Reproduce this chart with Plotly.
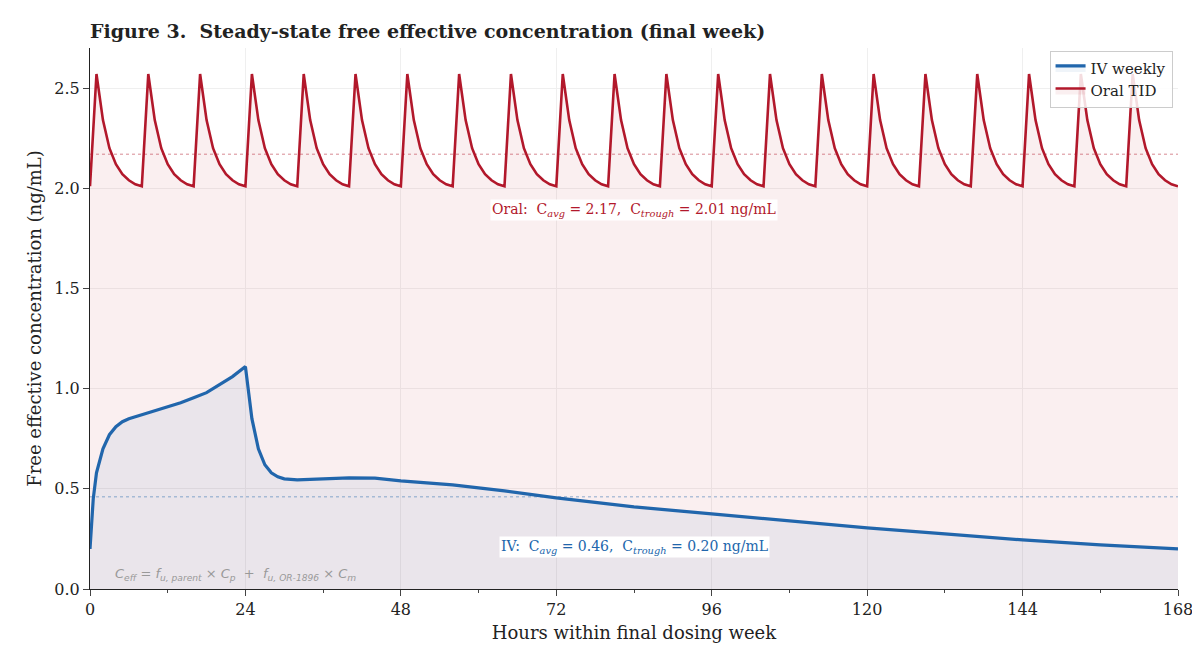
import plotly.graph_objects as go

# oral TID: one 8 h dosing interval, repeated for 21 doses
oral_cycle = [2.01, 2.57, 2.34, 2.20, 2.12, 2.07, 2.04, 2.02]
oral_t = list(range(0, 169))
oral_c = (oral_cycle * 21) + [2.01]

iv_t = [0, 0.5, 1, 2, 3, 4, 5, 6, 8, 10, 12, 14, 16, 18, 20, 22, 24, 25, 26, 27, 28, 29, 30,
        32, 36, 40, 44, 48, 56, 64, 72, 84, 96, 108, 120, 132, 144, 156, 168]
iv_c = [0.20, 0.45, 0.58, 0.70, 0.77, 0.81, 0.835, 0.85, 0.87, 0.89, 0.91, 0.93, 0.955, 0.98,
        1.02, 1.06, 1.11, 0.85, 0.70, 0.62, 0.58, 0.56, 0.55, 0.545, 0.55, 0.555, 0.553, 0.54,
        0.52, 0.49, 0.455, 0.41, 0.375, 0.34, 0.305, 0.275, 0.245, 0.22, 0.20]

oral_avg, oral_trough = 2.17, 2.01
iv_avg, iv_trough = 0.46, 0.20

RED = "#b2182b"
BLUE = "#2166ac"
FONT = "DejaVu Serif"

fig = go.Figure()
fig.add_trace(go.Scatter(x=oral_t, y=oral_c, mode="lines", name="Oral TID",
                         line=dict(color=RED, width=2.6), fill="tozeroy",
                         fillcolor="rgba(178,24,43,0.07)"))
fig.add_trace(go.Scatter(x=iv_t, y=iv_c, mode="lines", name="IV weekly",
                         line=dict(color=BLUE, width=3.2), fill="tozeroy",
                         fillcolor="rgba(33,102,172,0.07)"))

fig.add_hline(y=oral_avg, line=dict(color=RED, width=1, dash="dot"), opacity=0.5)
fig.add_hline(y=iv_avg, line=dict(color=BLUE, width=1, dash="dot"), opacity=0.5)

fig.add_annotation(x=84, y=1.89, showarrow=False, bgcolor="white",
                   text=f"Oral:  C<sub><i>avg</i></sub> = {oral_avg:.2f},  C<sub><i>trough</i></sub> = {oral_trough:.2f} ng/mL",
                   font=dict(family=FONT, size=14, color=RED))
fig.add_annotation(x=84, y=0.21, showarrow=False, bgcolor="white",
                   text=f"IV:  C<sub><i>avg</i></sub> = {iv_avg:.2f},  C<sub><i>trough</i></sub> = {iv_trough:.2f} ng/mL",
                   font=dict(family=FONT, size=14, color=BLUE))
fig.add_annotation(x=3.5, y=0.07, xanchor="left", showarrow=False,
                   text="<i>C<sub>eff</sub></i> = <i>f<sub>u, parent</sub></i> × <i>C<sub>p</sub></i>  +  <i>f<sub>u, OR-1896</sub></i> × <i>C<sub>m</sub></i>",
                   font=dict(family="DejaVu Sans", size=13, color="#999999"))

fig.update_layout(
    width=1200, height=652,
    paper_bgcolor="white", plot_bgcolor="white",
    margin=dict(l=82, r=30, t=40, b=71, autoexpand=False),
    font=dict(family=FONT, size=16, color="#222222"),
    title=dict(text="<b>Figure 3.  Steady-state free effective concentration (final week)</b>",
               xref="paper", x=0, xanchor="left", y=0.975, font=dict(size=19)),
    legend=dict(x=0.995, y=0.995, xanchor="right", yanchor="top", traceorder="reversed",
                bgcolor="rgba(255,255,255,0.85)", bordercolor="#cccccc", borderwidth=1,
                font=dict(size=15)),
)
fig.update_xaxes(range=[0, 168], tickvals=list(range(0, 169, 24)), showline=True,
                 linecolor="#222222", ticks="outside", ticklen=6, showgrid=True,
                 gridcolor="#efefef", zeroline=False,
                 minor=dict(tickvals=list(range(12, 168, 24)), ticks="outside", ticklen=3),
                 title=dict(text="Hours within final dosing week", font=dict(size=18), standoff=8))
fig.update_yaxes(range=[0, 2.7], dtick=0.5, tickformat=".1f", showline=True,
                 linecolor="#222222", ticks="outside", ticklen=6, showgrid=True,
                 gridcolor="#efefef", zeroline=False,
                 title=dict(text="Free effective concentration (ng/mL)", font=dict(size=18), standoff=8))

fig.write_html("out.html")
